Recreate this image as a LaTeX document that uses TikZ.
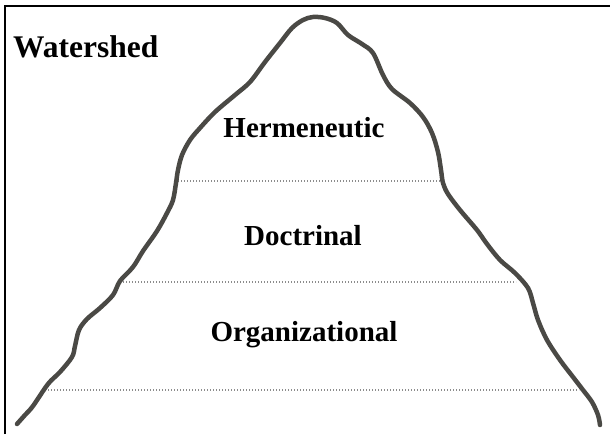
\documentclass[tikz,border=0pt]{standalone}
\usepackage{fontspec}
\setmainfont{Liberation Serif}[BoldFont={Liberation Serif Bold}]
\newfontfamily\timesbold{Liberation Serif Bold}
\begin{document}
\begin{tikzpicture}[x=1pt,y=-1pt,
  mountain/.style={draw=mtn,line width=4.5pt,line cap=round,line join=round},
  layerline/.style={draw=dotgray,line width=1.1pt,dash pattern=on 1.1pt off 1.9pt},
  frameline/.style={draw=black,line width=2pt},
  label/.style={font=\timesbold\fontsize{29}{29}\selectfont,anchor=base,inner sep=0pt},
  title/.style={font=\timesbold\fontsize{31.5}{31.5}\selectfont,anchor=base west,inner sep=0pt}]
\definecolor{mtn}{HTML}{4A4945}
\definecolor{dotgray}{HTML}{8C8C8C}
\useasboundingbox (0,0) rectangle (610,434);
\fill[white] (0,0) rectangle (610,434);
% frame (top and left)
\coordinate (fbl) at (5,434);
\coordinate (ftl) at (5,6);
\coordinate (ftr) at (610,6);
\draw[frameline] (fbl) -- (ftl) -- (ftr);
% layer lines
\coordinate (l1a) at (178,181); \coordinate (l1b) at (441,181);
\coordinate (l2a) at (120,282); \coordinate (l2b) at (516,282);
\coordinate (l3a) at (48,390);  \coordinate (l3b) at (579,390);
\draw[layerline] (l1a) -- (l1b);
\draw[layerline] (l2a) -- (l2b);
\draw[layerline] (l3a) -- (l3b);
% mountain
\draw[mountain] plot[smooth,tension=0.55] coordinates {
(17,424) (25,415) (33,406) (48,384) (60,372) (72,357) (75,346) (79,330) (87,319)
(100,308) (113,295) (120,281) (133,267) (143,251) (157,231) (167,213) (173,200)
(176,183) (178,170) (182,155) (190,140) (200,128) (215,112) (235,95) (250,82)
(265,62) (280,43) (292,28) (303,20) (313,17) (325,18) (337,23) (348,35) (362,44)
(373,53) (383,75) (392,89) (410,103) (423,117) (432,133) (438,152) (441,170)
(443,183) (448,194) (460,210) (477,230) (487,244) (500,260) (515,273) (528,288)
(533,303) (538,320) (547,340) (560,360) (573,377) (583,390) (592,402) (598,415)
(600,425)};
% texts
\node[title] (ws) at (13,57) {Watershed};
\node[label] (herm) at (304,137) {Hermeneutic};
\node[label] (doct) at (303,245) {Doctrinal};
\node[label] (org) at (304,341) {Organizational};
\end{tikzpicture}
\end{document}
